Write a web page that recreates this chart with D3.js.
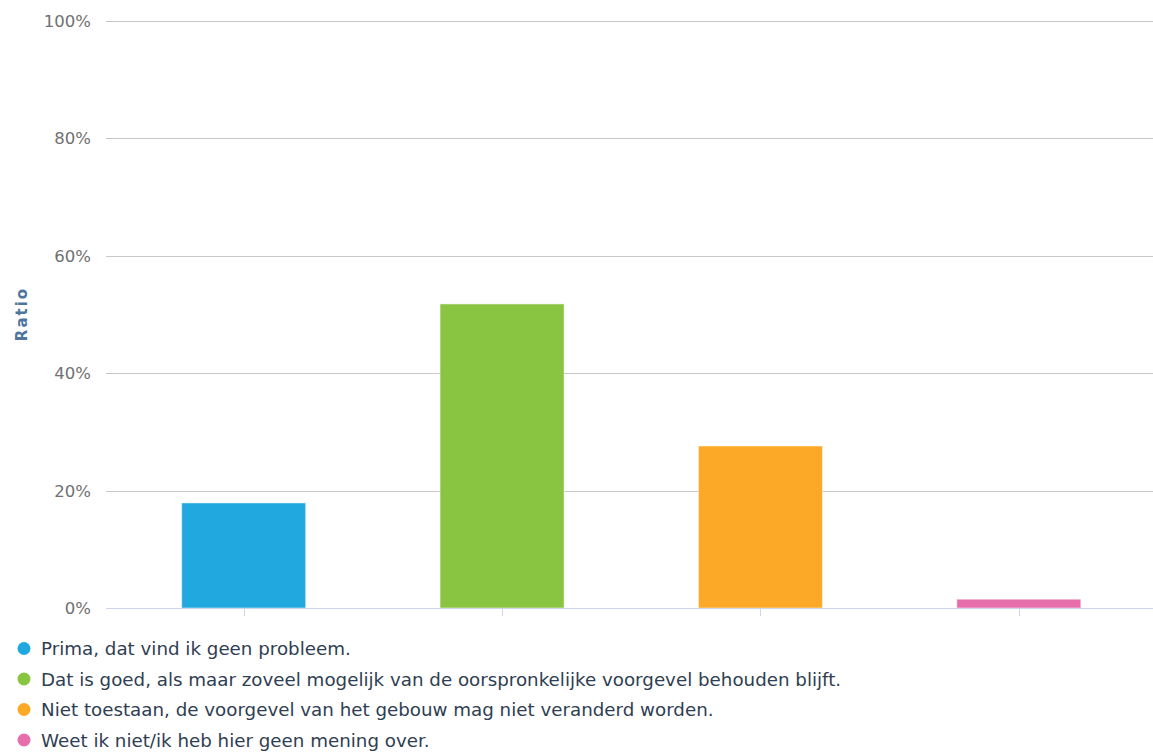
<!DOCTYPE html>
<html><head><meta charset="utf-8">
<script src="https://cdn.jsdelivr.net/npm/d3@7"></script>
<style>body{margin:0;background:#fff;}svg{display:block;}</style>
</head><body>
<svg id="chart" width="1153" height="754"></svg>
<script>
const categories = ["Prima, dat vind ik geen probleem.",
  "Dat is goed, als maar zoveel mogelijk van de oorspronkelijke voorgevel behouden blijft.",
  "Niet toestaan, de voorgevel van het gebouw mag niet veranderd worden.",
  "Weet ik niet/ik heb hier geen mening over."];
const values = [17.9, 51.8, 27.6, 1.5];
const colors = ["#20a8df", "#89c541", "#fba926", "#e66eab"];
const yTicks = [0, 20, 40, 60, 80, 100];

(function () {
const svg = d3.select("#chart");
const font = "'DejaVu Sans', sans-serif";
const pLeft = 106, pRight = 1153, pTop = 21, pBottom = 608;
const x = d3.scaleBand().domain(categories).range([114.5, 1148]).paddingInner(0.52).paddingOuter(0.26);
const y = d3.scaleLinear().domain([0, 100]).range([pBottom, pTop]);

// grid
svg.append("g").selectAll("line").data(yTicks.filter(d => d > 0)).join("line")
  .attr("x1", pLeft).attr("x2", pRight).attr("y1", d => Math.round(y(d)) + 0.5).attr("y2", d => Math.round(y(d)) + 0.5)
  .attr("stroke", "#c8c8c8").attr("stroke-width", 1);

// y labels
svg.append("g").selectAll("text").data(yTicks).join("text")
  .attr("x", 91).attr("y", d => y(d) + 6).attr("text-anchor", "end")
  .attr("font-family", font).attr("font-size", 16.5).attr("fill", "#707070")
  .text(d => d + "%");

// bars
svg.append("g").selectAll("rect").data(values).join("rect")
  .attr("x", (d, i) => x(categories[i])).attr("width", x.bandwidth())
  .attr("y", d => y(d)).attr("height", d => pBottom - y(d))
  .attr("fill", (d, i) => colors[i]).attr("stroke", "#ffffff").attr("stroke-opacity", 0.5).attr("stroke-width", 1);

// x axis line
svg.append("line").attr("x1", pLeft).attr("x2", pRight).attr("y1", pBottom + 0.5).attr("y2", pBottom + 0.5)
  .attr("stroke", "#ccd6eb").attr("stroke-width", 1);
// ticks
svg.append("g").selectAll("line").data(categories).join("line")
  .attr("x1", d => Math.round(x(d) + x.bandwidth() / 2) + 0.5).attr("x2", d => Math.round(x(d) + x.bandwidth() / 2) + 0.5)
  .attr("y1", pBottom).attr("y2", pBottom + 8).attr("stroke", "#ccd6eb").attr("stroke-width", 1);

// y title
svg.append("text").attr("transform", "translate(27,314) rotate(-90)")
  .attr("text-anchor", "middle").attr("font-family", font).attr("font-weight", "bold")
  .attr("font-size", 15).attr("letter-spacing", 2).attr("fill", "#4d759e").text("Ratio");

// legend
const lg = svg.append("g").selectAll("g").data(categories).join("g")
  .attr("transform", (d, i) => `translate(0,${648.5 + i * 30.5})`);
lg.append("circle").attr("cx", 24).attr("cy", 0).attr("r", 6.5).attr("fill", (d, i) => colors[i]);
lg.append("text").attr("x", 41).attr("y", 6.5).attr("font-family", font).attr("font-size", 18.25)
  .attr("fill", "#2f3e52").text(d => d);
})();
</script>
</body></html>
